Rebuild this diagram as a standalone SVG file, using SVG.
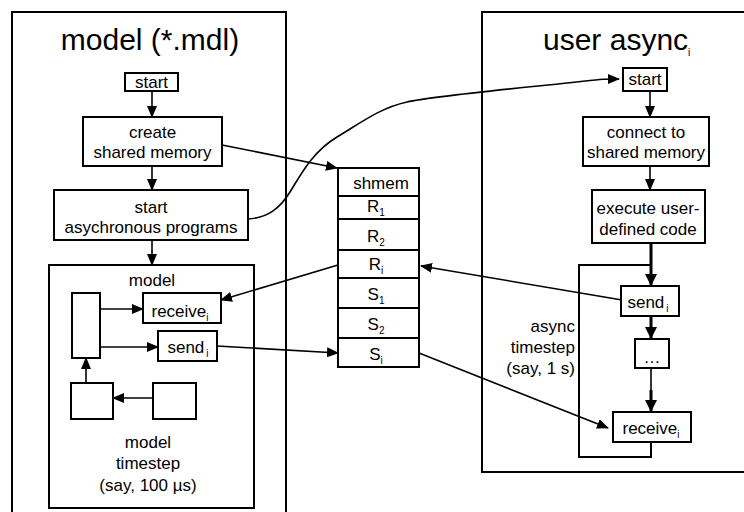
<svg xmlns="http://www.w3.org/2000/svg" width="744" height="512" viewBox="0 0 744 512">
<style>
  .box { fill: #fff; stroke: #000; stroke-width: 2; }
  .frame { fill: none; stroke: #000; stroke-width: 2; }
  .t { font-family: "Liberation Sans", Arial, sans-serif; font-size: 17px; fill: #000; text-anchor: middle; }
  .title { font-family: "Liberation Sans", Arial, sans-serif; font-size: 30px; fill: #000; }
  .sub { font-size: 10px; }
  .c { fill: none; stroke: #000; stroke-width: 1.6; }
  .ct { fill: none; stroke: #000; stroke-width: 3; }
</style>
<defs>
  <marker id="ah" markerUnits="userSpaceOnUse" markerWidth="12" markerHeight="10" refX="11" refY="5" orient="auto">
    <path d="M0,0 L12,5 L0,10 z" fill="#000"/>
  </marker>
  <marker id="ahb" markerUnits="userSpaceOnUse" markerWidth="12" markerHeight="12" refX="12" refY="6" orient="auto">
    <path d="M0,0 L12,6 L0,12 z" fill="#000"/>
  </marker>
</defs>
<rect width="744" height="512" fill="#fff"/>

<g id="model-frame">
  <rect class="frame" x="12" y="12" width="274" height="520"/>
  <text class="title" x="150" y="50" text-anchor="middle">model (*.mdl)</text>
</g>
<g id="async-frame">
  <rect class="frame" x="482" y="12" width="280" height="460"/>
  <text class="title" x="543" y="50">user async<tspan class="sub" font-size="13" dy="6">i</tspan></text>
</g>

<g id="m-start"><rect class="box" x="125" y="73" width="53" height="18"/><text class="t" x="151.5" y="88">start</text></g>
<g id="m-create"><rect class="box" x="83" y="117" width="139" height="49"/><text class="t" x="152.5" y="138">create</text><text class="t" x="152.5" y="158">shared memory</text></g>
<g id="m-startasync"><rect class="box" x="54" y="190" width="194" height="50"/><text class="t" x="151" y="213">start</text><text class="t" x="151" y="233">asychronous programs</text></g>

<g id="m-loop">
  <rect class="box" x="49" y="265" width="205" height="243"/>
  <text class="t" x="152" y="286">model</text>
  <text class="t" x="148" y="448">model</text>
  <text class="t" x="148" y="469">timestep</text>
  <text class="t" x="148" y="491">(say, 100 µs)</text>
</g>
<g id="m-tall"><rect class="box" x="72" y="293" width="28" height="65"/></g>
<g id="m-receive"><rect class="box" x="143" y="293" width="78" height="30"/><text class="t" x="180" y="317">receive<tspan class="sub" dy="4">i</tspan></text></g>
<g id="m-send"><rect class="box" x="158" y="331" width="59" height="30"/><text class="t" x="188" y="353">send<tspan class="sub" dy="4" dx="2">i</tspan></text></g>
<g id="m-boxA"><rect class="box" x="71" y="383" width="42" height="36"/></g>
<g id="m-boxB"><rect class="box" x="153" y="383" width="43" height="36"/></g>

<g id="shmem">
  <rect class="box" x="338" y="168" width="81" height="28"/><text class="t" x="381" y="189">shmem</text>
  <rect class="box" x="338" y="196" width="81" height="23"/><text class="t" x="376" y="212">R<tspan class="sub" dy="4">1</tspan></text>
  <rect class="box" x="338" y="219" width="81" height="31"/><text class="t" x="376" y="242">R<tspan class="sub" dy="4">2</tspan></text>
  <rect class="box" x="338" y="250" width="81" height="28"/><text class="t" x="376" y="270">R<tspan class="sub" dy="4">i</tspan></text>
  <rect class="box" x="338" y="278" width="81" height="30"/><text class="t" x="376" y="300">S<tspan class="sub" dy="4">1</tspan></text>
  <rect class="box" x="338" y="308" width="81" height="30"/><text class="t" x="376" y="330">S<tspan class="sub" dy="4">2</tspan></text>
  <rect class="box" x="338" y="338" width="81" height="29"/><text class="t" x="376" y="360">S<tspan class="sub" dy="4">i</tspan></text>
</g>

<g id="a-start"><rect class="box" x="623" y="68" width="44" height="23"/><text class="t" x="645" y="85">start</text></g>
<g id="a-connect"><rect class="box" x="583" y="117" width="126" height="49"/><text class="t" x="646" y="138">connect to</text><text class="t" x="646" y="158">shared memory</text></g>
<g id="a-exec"><rect class="box" x="592" y="190" width="113" height="53"/><text class="t" x="648" y="214">execute user-</text><text class="t" x="648" y="235">defined code</text></g>
<g id="a-loop">
  <path class="frame" d="M651,265 H579 V457 H651 V442"/>
  <text class="t" x="575" y="332" style="text-anchor:end">async</text>
  <text class="t" x="575" y="353" style="text-anchor:end">timestep</text>
  <text class="t" x="575" y="374" style="text-anchor:end">(say, 1 s)</text>
</g>
<g id="a-send"><rect class="box" x="621" y="286" width="58" height="30"/><text class="t" x="648" y="308">send<tspan class="sub" dy="4" dx="2">i</tspan></text></g>
<g id="a-dots"><rect class="box" x="635" y="339" width="34" height="29"/><text class="t" x="652" y="363">…</text></g>
<g id="a-receive"><rect class="box" x="613" y="412" width="78" height="30"/><text class="t" x="651" y="434">receive<tspan class="sub" dy="4">i</tspan></text></g>

<g id="connectors">
  <line class="c" x1="152" y1="91" x2="152" y2="117" marker-end="url(#ah)"/>
  <line class="c" x1="152" y1="166" x2="152" y2="190" marker-end="url(#ah)"/>
  <line class="c" x1="152" y1="240" x2="152" y2="265" marker-end="url(#ah)"/>
  <line class="c" x1="100" y1="309" x2="143" y2="309" marker-end="url(#ah)"/>
  <line class="c" x1="100" y1="347" x2="158" y2="347" marker-end="url(#ah)"/>
  <line class="c" x1="86" y1="383" x2="86" y2="358" marker-end="url(#ah)"/>
  <line class="c" x1="153" y1="398" x2="113" y2="398" marker-end="url(#ah)"/>
  <line class="c" x1="222" y1="145" x2="337" y2="168" marker-end="url(#ah)"/>
  <path class="c" d="M248,219 C268,218 280,208 290,192 S312,152 337,137 S380,108 407,102 S530,87 567,83 S600,79 619,79" marker-end="url(#ah)"/>
  <line class="c" x1="338" y1="265" x2="221" y2="300" marker-end="url(#ah)"/>
  <line class="c" x1="217" y1="346" x2="338" y2="353" marker-end="url(#ah)"/>
  <line class="c" x1="622" y1="300" x2="421" y2="266" marker-end="url(#ah)"/>
  <line class="c" x1="419" y1="353" x2="608" y2="428" marker-end="url(#ah)"/>
  <line class="c" x1="650" y1="91" x2="650" y2="117" marker-end="url(#ah)"/>
  <line class="c" x1="650" y1="166" x2="650" y2="190" marker-end="url(#ah)"/>
  <line class="ct" x1="651" y1="243" x2="651" y2="286" marker-end="url(#ahb)"/>
  <line class="ct" x1="651" y1="316" x2="651" y2="339" marker-end="url(#ahb)"/>
  <line class="c" x1="651" y1="368" x2="651" y2="390"/>
  <line class="ct" x1="651" y1="390" x2="651" y2="412" marker-end="url(#ahb)"/>
</g>
</svg>
